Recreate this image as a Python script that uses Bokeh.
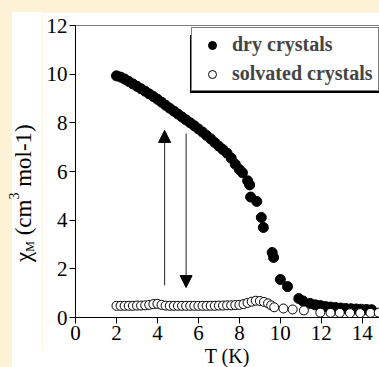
from bokeh.plotting import figure
from bokeh.models import (Range1d, FixedTicker, Span, Arrow, NormalHead,
                          Legend, LegendItem, Column, Row, Div)
from bokeh.embed import file_html
from bokeh.resources import INLINE

# Magnetic susceptibility vs temperature
T_dry = [2.0, 2.2, 2.4, 2.6, 2.8, 3.0, 3.2, 3.4, 3.6, 3.8, 4.0, 4.2, 4.4, 4.6,
         4.8, 5.0, 5.2, 5.4, 5.6, 5.8, 6.0, 6.2, 6.4, 6.6, 6.8, 7.0, 7.2, 7.4,
         7.6, 7.8, 8.0, 8.15, 8.4, 8.5, 8.55, 8.85, 9.07, 9.17, 9.6, 9.67,
         10.0, 10.35, 10.9, 11.1, 11.45, 11.7, 11.95, 12.2, 12.45, 12.7,
         12.95, 13.2, 13.45, 13.7, 13.95, 14.2, 14.45]
chi_dry = [9.93, 9.88, 9.8, 9.7, 9.6, 9.5, 9.4, 9.3, 9.19, 9.08, 8.97, 8.85,
           8.72, 8.6, 8.48, 8.36, 8.24, 8.12, 8.0, 7.88, 7.75, 7.62, 7.48,
           7.34, 7.19, 7.04, 6.9, 6.75, 6.55, 6.3, 6.08, 5.95, 5.62, 5.45,
           4.95, 4.77, 4.11, 3.70, 2.67, 2.47, 1.56, 1.27, 0.78, 0.68, 0.58,
           0.52, 0.49, 0.45, 0.43, 0.41, 0.39, 0.37, 0.36, 0.35, 0.34, 0.33,
           0.32]

T_solv = [2.0, 2.2, 2.4, 2.6, 2.8, 3.0, 3.2, 3.4, 3.6, 3.8, 4.0, 4.2, 4.4,
          4.6, 4.8, 5.0, 5.2, 5.4, 5.6, 5.8, 6.0, 6.2, 6.4, 6.6, 6.8, 7.0,
          7.2, 7.4, 7.6, 7.8, 8.0, 8.2, 8.4, 8.6, 8.8, 9.0, 9.2, 9.4, 9.55,
          9.7, 10.15, 10.6, 11.15, 11.95, 12.45, 12.9, 13.4, 13.9, 14.4, 14.8]
chi_solv = [0.48, 0.48, 0.48, 0.48, 0.48, 0.49, 0.49, 0.5, 0.52, 0.55, 0.56,
            0.52, 0.49, 0.48, 0.48, 0.48, 0.48, 0.48, 0.48, 0.48, 0.48, 0.48,
            0.48, 0.48, 0.48, 0.49, 0.49, 0.5, 0.5, 0.51, 0.52, 0.55, 0.6,
            0.65, 0.69, 0.68, 0.64, 0.58, 0.5, 0.42, 0.37, 0.33, 0.29, 0.2,
            0.19, 0.19, 0.18, 0.18, 0.19, 0.2]

x_ticks = [0, 2, 4, 6, 8, 10, 12, 14]
y_ticks = [0, 2, 4, 6, 8, 10, 12]

# Cooling / warming arrows: (x, y_start, y_end)
arrow_up = (4.35, 1.32, 7.69)
arrow_down = (5.4, 7.56, 1.23)

SERIF = "Liberation Serif, Times New Roman, serif"
CSS_SERIF = "font-family:'Liberation Serif','Times New Roman',serif;"
CREAM = "#FDF1D6"

p = figure(frame_width=304, frame_height=292, output_backend="svg",
           toolbar_location=None,
           x_range=Range1d(0, 14.84), y_range=Range1d(0, 12),
           min_border_left=33, min_border_top=13, min_border_bottom=33,
           min_border_right=0, background_fill_color="white",
           border_fill_color="white", margin=0)
p.outline_line_color = None
p.grid.visible = False

for ax, ticks in ((p.xaxis[0], x_ticks), (p.yaxis[0], y_ticks)):
    ax.ticker = FixedTicker(ticks=ticks)
    ax.minor_tick_line_color = None
    ax.major_tick_in = 0
    ax.major_tick_out = 6
    ax.axis_line_color = "black"
    ax.major_tick_line_color = "black"
    ax.major_label_text_font = SERIF
    ax.major_label_text_font_size = "21px"
    ax.major_label_text_color = "black"
p.xaxis.major_label_standoff = 2
p.yaxis.major_label_standoff = 2

p.add_layout(Span(location=12, dimension="width", line_color="black",
                  line_width=1))

r_dry = p.scatter(T_dry, chi_dry, marker="circle", size=10,
                  fill_color="black", line_color="black")
r_solv = p.scatter(T_solv, chi_solv, marker="circle", size=9,
                   fill_color="white", line_color="black", line_width=1)

for ax_x, y0, y1 in (arrow_up, arrow_down):
    p.add_layout(Arrow(x_start=ax_x, y_start=y0, x_end=ax_x, y_end=y1,
                       line_color="#222222", line_width=1,
                       end=NormalHead(size=12, fill_color="black",
                                      line_color="black")))

labels = ["dry crystals", "solvated crystals"]
legend_style = dict(margin=0, padding=5, spacing=6, glyph_width=30,
                    glyph_height=20, label_height=20, label_standoff=5,
                    label_text_font=SERIF, label_text_font_size="20px",
                    label_text_font_style="bold", border_line_color="black",
                    border_line_width=1, background_fill_alpha=1)

# Drop shadow behind the legend box (blank entries of the same size)
r_blank = p.scatter([], [], marker="circle", size=1, alpha=0)
shadow = Legend(items=[LegendItem(label=" ", renderers=[r_blank])
                       for _ in labels],
                location=(115, 224), background_fill_color="black",
                label_width=170, **legend_style)
p.add_layout(shadow)

legend = Legend(items=[LegendItem(label=labels[0], renderers=[r_dry]),
                       LegendItem(label=labels[1], renderers=[r_solv])],
                location=(116, 226), background_fill_color="white",
                **legend_style)
p.add_layout(legend)

# Vertical axis title with subscript / superscript
ylabel_html = (
    '<div style="position:relative;width:30px;height:338px;">'
    '<span style="position:absolute;left:0px;top:250px;display:block;'
    'transform-origin:0 0;transform:rotate(-90deg);white-space:nowrap;'
    + CSS_SERIF +
    'font-size:23px;line-height:24px;color:black;">'
    'χ<sub style="font-size:12px;vertical-align:-3px;line-height:0">M</sub>'
    ' (cm<sup style="font-size:14px;vertical-align:12px;line-height:0">3</sup>'
    ' mol-1)</span></div>'
)
ydiv = Div(text=ylabel_html, width=30, height=338, margin=0,
           styles={"background-color": "white"})

# Horizontal axis title
xlabel_html = (
    '<div style="position:relative;width:367px;height:17px;">'
    '<span style="position:absolute;left:0;top:-4px;width:430px;'
    'display:block;text-align:center;white-space:nowrap;'
    + CSS_SERIF +
    'font-size:20px;line-height:20px;color:black;">T (K)</span></div>'
)
xdiv = Div(text=xlabel_html, width=367, height=17, margin=0,
           styles={"background-color": "white"})

body = Column(children=[Row(children=[ydiv, p], margin=0), xdiv],
              margin=(12, 0, 0, 12))
page = Column(children=[body], width=379, height=367,
              styles={"background-color": CREAM})

open("out.html", "w").write(file_html(page, INLINE))
